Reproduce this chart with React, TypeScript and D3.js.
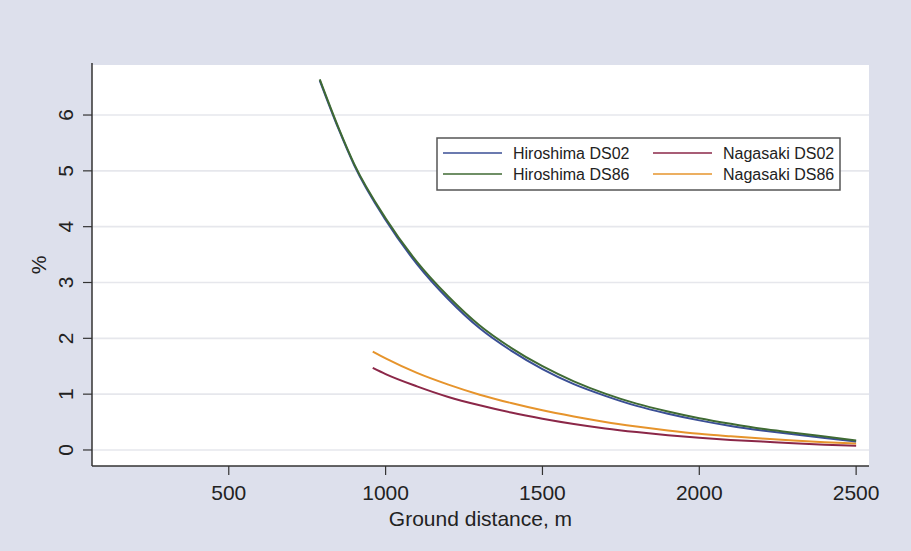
import React from "react";
import * as d3 from "d3";

const W = 911;
const H = 551;

// distances in metres
const hiroDist = [790, 850, 900, 1000, 1100, 1200, 1300, 1400, 1500, 1600, 1700, 1800, 1900, 2000, 2100, 2200, 2300, 2400, 2500];
const hiroDS02 = [6.62, 5.75, 5.1, 4.12, 3.33, 2.7, 2.18, 1.78, 1.45, 1.18, 0.97, 0.79, 0.65, 0.53, 0.43, 0.35, 0.28, 0.215, 0.15];
const hiroDS86 = [6.64, 5.77, 5.12, 4.15, 3.37, 2.75, 2.23, 1.83, 1.5, 1.23, 1.01, 0.83, 0.69, 0.57, 0.47, 0.38, 0.31, 0.24, 0.17];

const nagaDist = [959, 1000, 1100, 1200, 1300, 1400, 1500, 1600, 1700, 1800, 1900, 2000, 2100, 2200, 2300, 2400, 2500];
const nagaDS02 = [1.47, 1.36, 1.14, 0.95, 0.8, 0.67, 0.56, 0.465, 0.385, 0.32, 0.265, 0.22, 0.18, 0.15, 0.12, 0.095, 0.075];
const nagaDS86 = [1.76, 1.64, 1.38, 1.17, 0.99, 0.84, 0.71, 0.6, 0.5, 0.42, 0.35, 0.29, 0.245, 0.205, 0.17, 0.14, 0.115];

const xTicks = [500, 1000, 1500, 2000, 2500];
const yTicks = [0, 1, 2, 3, 4, 5, 6];

const series = [
  { name: "Hiroshima DS02", x: hiroDist, y: hiroDS02, color: "#3a4e95" },
  { name: "Nagasaki DS02", x: nagaDist, y: nagaDS02, color: "#8b2748" },
  { name: "Hiroshima DS86", x: hiroDist, y: hiroDS86, color: "#3f6a33" },
  { name: "Nagasaki DS86", x: nagaDist, y: nagaDS86, color: "#e6942c" },
];

const plot = { left: 92, right: 869, top: 65, bottom: 466 };
const font = "'Liberation Sans', Arial, sans-serif";

export default function App() {
  const x = d3.scaleLinear().domain([64, 2541]).range([plot.left, plot.right]);
  const y = d3.scaleLinear().domain([-0.287, 6.896]).range([plot.bottom, plot.top]);

  const line = d3
    .line<[number, number]>()
    .x((d) => x(d[0]))
    .y((d) => y(d[1]))
    .curve(d3.curveMonotoneX);

  // DS02 drawn first, DS86 on top
  const drawOrder = [series[1], series[3], series[0], series[2]];

  return (
    <svg width={W} height={H} style={{ position: "absolute", left: 0, top: 0 }} fontFamily={font}>
      <rect width={W} height={H} fill="#dde0ec" />
      <rect x={plot.left} y={plot.top} width={plot.right - plot.left} height={plot.bottom - plot.top} fill="#ffffff" />

      {yTicks.map((t) => (
        <line key={"g" + t} x1={plot.left} x2={plot.right} y1={y(t)} y2={y(t)} stroke="#e6e7ec" strokeWidth={1.6} />
      ))}

      {drawOrder.map((s) => (
        <path
          key={s.name}
          d={line(s.x.map((v, i) => [v, s.y[i]] as [number, number])) || ""}
          fill="none"
          stroke={s.color}
          strokeWidth={2}
        />
      ))}

      {/* y axis */}
      <line x1={plot.left} x2={plot.left} y1={plot.top - 2} y2={plot.bottom} stroke="#333" strokeWidth={1.5} />
      {yTicks.map((t) => (
        <g key={"y" + t}>
          <line x1={plot.left - 9} x2={plot.left} y1={y(t)} y2={y(t)} stroke="#333" strokeWidth={1.2} />
          <text transform={`translate(73,${y(t)}) rotate(-90)`} textAnchor="middle" fontSize={21} fill="#222">
            {t}
          </text>
        </g>
      ))}
      <text transform={`translate(46,265) rotate(-90)`} textAnchor="middle" fontSize={21} fill="#222">
        %
      </text>

      {/* x axis */}
      <line x1={plot.left} x2={plot.right} y1={plot.bottom} y2={plot.bottom} stroke="#333" strokeWidth={1.5} />
      {xTicks.map((t) => (
        <g key={"x" + t}>
          <line x1={x(t)} x2={x(t)} y1={plot.bottom} y2={plot.bottom + 9} stroke="#333" strokeWidth={1.2} />
          <text x={x(t)} y={500} textAnchor="middle" fontSize={21} fill="#222">
            {t}
          </text>
        </g>
      ))}
      <text x={(plot.left + plot.right) / 2} y={526} textAnchor="middle" fontSize={21} fill="#222">
        Ground distance, m
      </text>

      {/* legend */}
      <rect x={437} y={138} width={403} height={52} fill="#fff" stroke="#555" strokeWidth={1.5} />
      {series.map((s, i) => {
        const col = i % 2;
        const row = Math.floor(i / 2);
        const lx = col === 0 ? 443 : 653;
        const ly = row === 0 ? 153 : 174;
        return (
          <g key={"l" + s.name}>
            <line x1={lx} x2={lx + 59} y1={ly} y2={ly} stroke={s.color} strokeWidth={1.5} />
            <text x={lx + 70} y={ly} dy="0.35em" fontSize={16} fill="#222">
              {s.name}
            </text>
          </g>
        );
      })}
    </svg>
  );
}
